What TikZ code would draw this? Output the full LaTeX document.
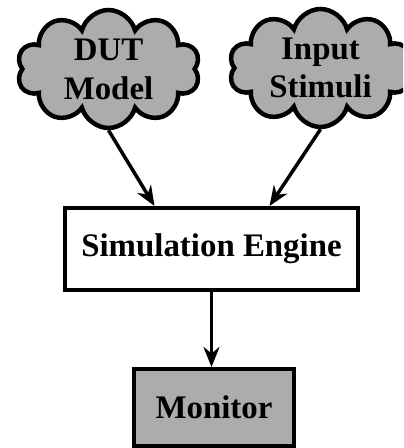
\documentclass[tikz,border=0pt]{standalone}
\usepackage{fontspec}
\newfontfamily\labelfont{Liberation Serif}[BoldFont={Liberation Serif Bold}]
\usetikzlibrary{shapes.symbols,arrows.meta,calc}
\definecolor{shade}{RGB}{172,172,172}
\tikzset{
  lbl/.style={font=\labelfont\bfseries\fontsize{33}{39}\selectfont, align=center},
  puff/.style={cloud, cloud puffs=10, cloud puff arc=150, cloud ignores aspect,
    draw, line width=4.5bp, fill=shade, minimum width=183bp, minimum height=118bp,
    inner sep=0pt, lbl},
  blockbox/.style={draw, line width=4bp, inner sep=0pt, lbl},
  arr/.style={line width=3.5bp, -{Stealth[length=20bp, width=16bp]}}
}
\begin{document}
\begin{tikzpicture}[x=1bp, y=-1bp]
  \path[use as bounding box, clip] (0,0) rectangle (403,448);
  \fill[white] (0,0) rectangle (403,448);

  % sources
  \node[puff] (dut)  at (108.5,69) {DUT\\Model};
  \node[puff] (stim) at (320.5,68) {Input\\Stimuli};

  % simulator and monitor
  \node[blockbox, minimum width=293bp, minimum height=82bp] (sim) at (211.5,249) {Simulation Engine};
  \node[blockbox, fill=shade, minimum width=160bp, minimum height=77bp] (mon) at (214,407.5) {Monitor};

  % connectors
  \draw[arr] (dut.south) -- ($(sim.north)+(-57,0)$);
  \draw[arr] (stim.south) -- ($(sim.north)+(58,0)$);
  \draw[arr] (sim.south) -- (sim.south |- mon.north);
\end{tikzpicture}
\end{document}
